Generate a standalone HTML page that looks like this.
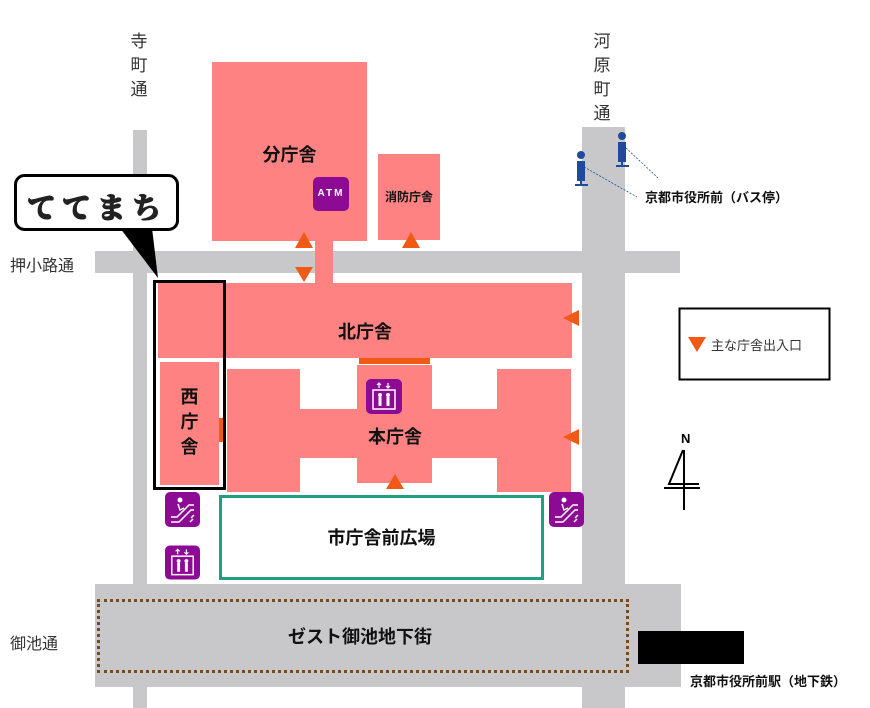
<!DOCTYPE html>
<html><head><meta charset="utf-8">
<style>
*{margin:0;padding:0;box-sizing:border-box}
body{width:870px;height:708px;background:#fff;position:relative;overflow:hidden;font-family:"Liberation Sans","Noto Sans CJK JP",sans-serif;color:#111}
.a{position:absolute}
.r{position:absolute;background:#c8c8ca}
.b{position:absolute;background:#fe8282}
.lbl{position:absolute;font-weight:bold;font-size:18px;text-align:center}
.v{position:absolute;font-size:17px;line-height:24px;width:20px;text-align:center;color:#333}
.ic{position:absolute;background:#8c0a94;border-radius:5px}
</style></head><body>
<div class="r" style="left:133px;top:130px;width:14px;height:578px"></div>
<div class="r" style="left:582px;top:127px;width:43px;height:581px"></div>
<div class="r" style="left:95px;top:251px;width:585px;height:22px"></div>
<div class="r" style="left:95px;top:584px;width:586px;height:103px"></div>
<div class="b" style="left:212px;top:62px;width:155px;height:179px"></div>
<div class="b" style="left:315px;top:241px;width:18px;height:42px"></div>
<div class="b" style="left:378px;top:154px;width:62px;height:86px"></div>
<div class="b" style="left:158px;top:283px;width:414px;height:75px"></div>
<div class="a" style="left:359px;top:358px;width:71px;height:6px;background:#f05a14"></div>
<div class="b" style="left:160px;top:362px;width:59px;height:123px"></div>
<div class="a" style="left:219px;top:418px;width:4px;height:24px;background:#f05a14"></div>
<div class="b" style="left:227px;top:369px;width:73px;height:123px"></div>
<div class="b" style="left:300px;top:409px;width:197px;height:49px"></div>
<div class="b" style="left:357px;top:365px;width:75px;height:118px"></div>
<div class="b" style="left:497px;top:369px;width:74px;height:123px"></div>
<div class="a" style="left:153px;top:280px;width:73px;height:210px;border:3px solid #000"></div>
<div class="lbl" style="left:212px;top:141px;width:155px">分庁舎</div>
<div class="a" style="left:378px;top:188px;width:62px;text-align:center;font-size:12px;font-weight:bold">消防庁舎</div>
<div class="lbl" style="left:300px;top:318px;width:130px">北庁舎</div>
<div class="lbl" style="left:160px;top:385px;width:59px;line-height:25px">西<br>庁<br>舎</div>
<div class="lbl" style="left:350px;top:423px;width:90px">本庁舎</div>
<div class="ic" style="left:313px;top:177px;width:36px;height:34px;color:#fff;font-size:10px;font-weight:bold;text-align:center;line-height:34px;letter-spacing:2px">ATM</div>
<svg class="a" style="left:366px;top:379px" width="36" height="35" viewBox="0 0 36 35"><rect width="36" height="35" rx="5" fill="#8c0a94"/><rect x="7" y="11" width="22" height="19" fill="none" stroke="#fff" stroke-width="1.5"/><circle cx="14" cy="16" r="2" fill="#fff"/><circle cx="22" cy="16" r="2" fill="#fff"/><rect x="12.5" y="18" width="3" height="9" fill="#fff"/><rect x="20.5" y="18" width="3" height="9" fill="#fff"/><path d="M13 9V4M11 6l2-2 2 2M22 4v5M20 7l2 2 2-2" stroke="#fff" stroke-width="1.2" fill="none"/></svg>
<svg class="a" style="left:165px;top:545px" width="35" height="35" viewBox="0 0 36 35"><rect width="36" height="35" rx="5" fill="#8c0a94"/><rect x="7" y="11" width="22" height="19" fill="none" stroke="#fff" stroke-width="1.5"/><circle cx="14" cy="16" r="2" fill="#fff"/><circle cx="22" cy="16" r="2" fill="#fff"/><rect x="12.5" y="18" width="3" height="9" fill="#fff"/><rect x="20.5" y="18" width="3" height="9" fill="#fff"/><path d="M13 9V4M11 6l2-2 2 2M22 4v5M20 7l2 2 2-2" stroke="#fff" stroke-width="1.2" fill="none"/></svg>
<svg class="a" style="left:165px;top:492px" width="35" height="35" viewBox="0 0 35 35"><rect width="35" height="35" rx="5" fill="#8c0a94"/><circle cx="15" cy="8" r="2.5" fill="#fff"/><path d="M6 25h6l12-12h5M6 30h8l12-12h3" stroke="#fff" stroke-width="1.5" fill="none"/><path d="M13 12l2 6 4-2M26 26l3-3M25 30l3-3" stroke="#fff" stroke-width="1.5" fill="none"/></svg>
<svg class="a" style="left:549px;top:492px" width="35" height="35" viewBox="0 0 35 35"><rect width="35" height="35" rx="5" fill="#8c0a94"/><circle cx="15" cy="8" r="2.5" fill="#fff"/><path d="M6 25h6l12-12h5M6 30h8l12-12h3" stroke="#fff" stroke-width="1.5" fill="none"/><path d="M13 12l2 6 4-2M26 26l3-3M25 30l3-3" stroke="#fff" stroke-width="1.5" fill="none"/></svg>
<div class="a" style="left:219px;top:495px;width:325px;height:85px;border:3px solid #21a07f"></div>
<div class="lbl" style="left:219px;top:524px;width:325px">市庁舎前広場</div>
<div class="a" style="left:97px;top:599px;width:532px;height:74px;border:3px dotted #7a4a1a"></div>
<div class="lbl" style="left:230px;top:623px;width:260px">ゼスト御池地下街</div>
<div class="a" style="left:638px;top:631px;width:106px;height:33px;background:#000"></div>
<div class="a" style="left:690px;top:671px;font-size:13px;font-weight:bold">京都市役所前駅（地下鉄）</div>
<div class="v" style="left:129px;top:30px">寺<br>町<br>通</div>
<div class="v" style="left:592px;top:30px">河<br>原<br>町<br>通</div>
<div class="a" style="left:10px;top:252px;font-size:16px;color:#333">押小路通</div>
<div class="a" style="left:10px;top:630px;font-size:16px;color:#333">御池通</div>
<svg class="a" style="left:0;top:0" width="870" height="708">
<g fill="#f05a14">
<polygon points="304,232 295,248 313,248"/>
<polygon points="295,267 313,267 304,282"/>
<polygon points="411,232 402,248 420,248"/>
<polygon points="563,318 579,310 579,326"/>
<polygon points="563,437 579,429 579,445"/>
<polygon points="395,474 386,489 404,489"/>
<polygon points="688,337 706,337 697,352"/>
</g>
<g fill="#1f4b9c">
<circle cx="581" cy="155" r="4"/><rect x="577" y="161" width="8" height="20"/><rect x="575" y="184" width="13" height="2"/><rect x="580" y="180" width="2" height="5"/>
<circle cx="622" cy="136" r="4"/><rect x="618" y="142" width="8" height="20"/><rect x="616" y="165" width="13" height="2"/><rect x="621" y="161" width="2" height="5"/>
</g>
<g stroke="#1f4b9c" stroke-width="0.8" stroke-dasharray="2,1.5">
<line x1="584" y1="167" x2="637" y2="197"/><line x1="626" y1="148" x2="658" y2="178"/>
</g>
<path d="M120 228 L158 278 L152 228 Z" fill="#000"/>
<rect x="15.5" y="175.5" width="162" height="54" rx="9" fill="#fff" stroke="#000" stroke-width="3"/>
<rect x="679.5" y="308.5" width="150" height="71" fill="none" stroke="#000" stroke-width="2"/>
<text x="681" y="443" font-size="13" font-weight="bold" font-family="Liberation Sans,sans-serif">N</text>
<path d="M683 450 L669 484 H699 M684 450 V510 M664 488 H700" stroke="#000" stroke-width="2" fill="none"/>
</svg>
<div class="a" style="left:645px;top:187px;font-size:13px;font-weight:bold">京都市役所前（バス停）</div>
<div class="a" style="left:711px;top:335px;font-size:13px;color:#333">主な庁舎出入口</div>
<div class="a" style="left:27px;top:186px;font-size:29px;font-weight:900;font-family:'Noto Serif CJK SC',serif;letter-spacing:6px;color:#222;-webkit-text-stroke:1px #222">ててまち</div>
</body></html>
